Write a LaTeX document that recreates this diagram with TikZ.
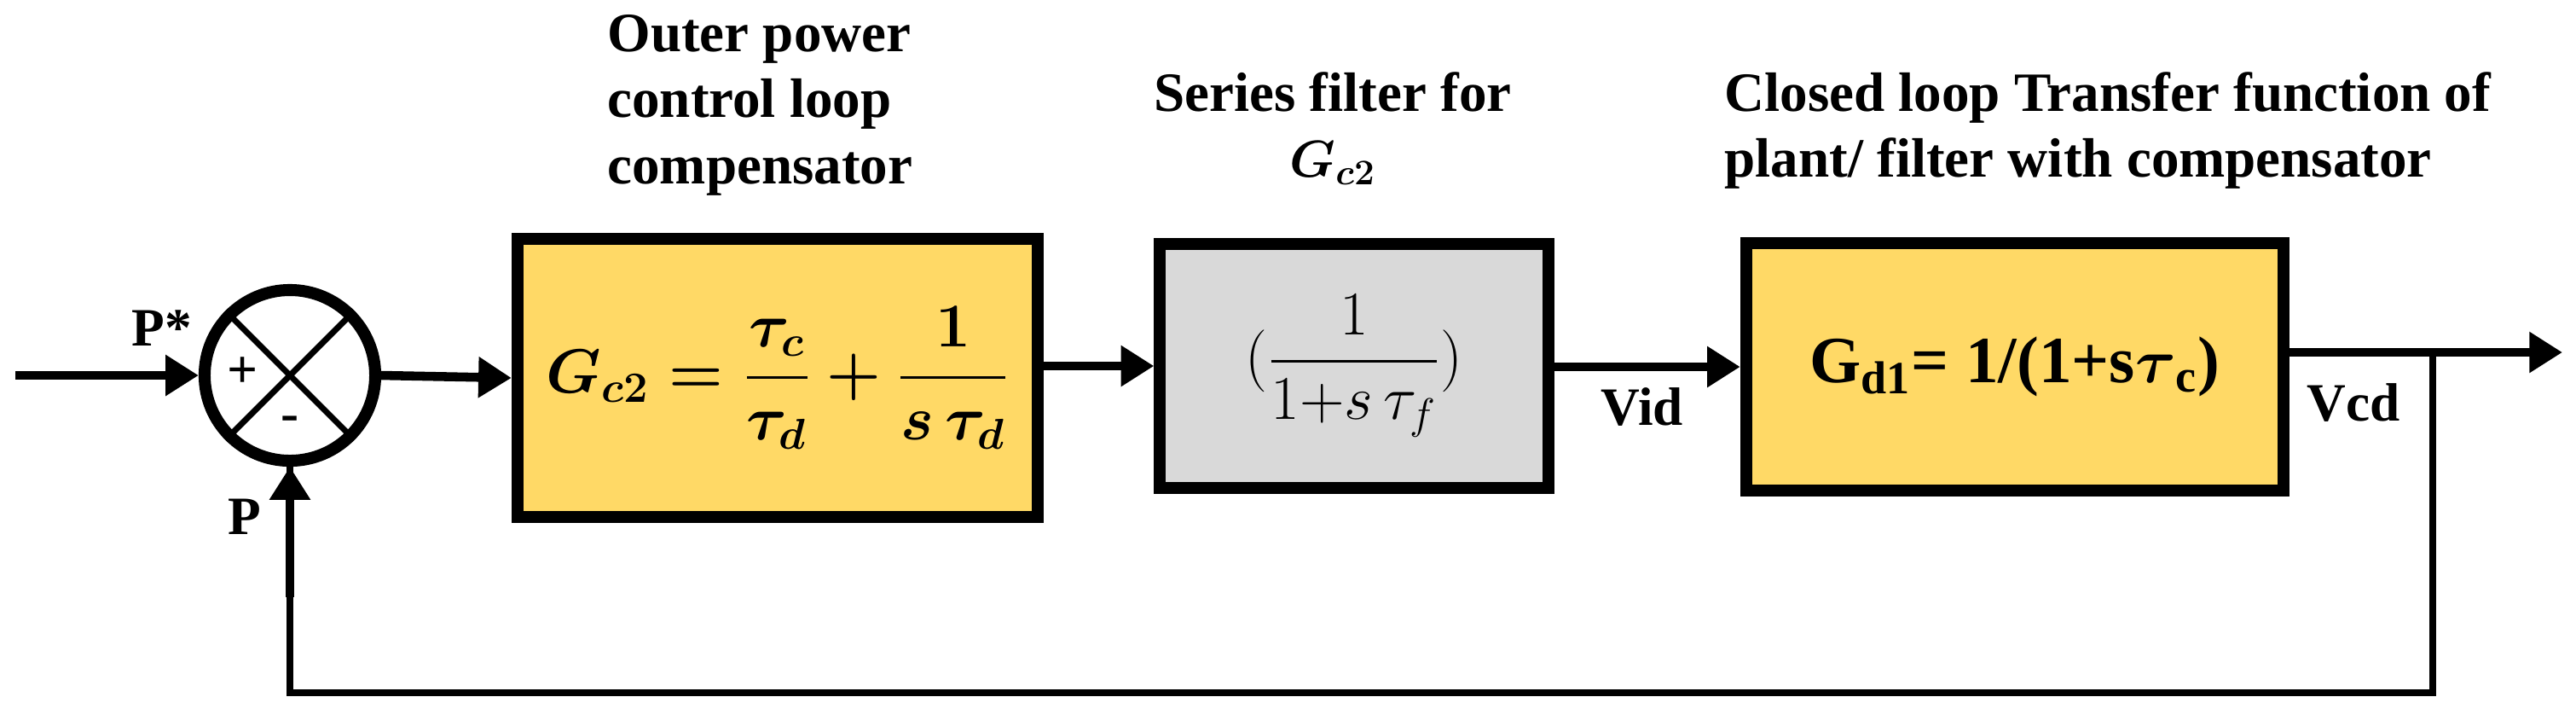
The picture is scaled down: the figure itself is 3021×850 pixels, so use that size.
\documentclass[tikz,border=0pt]{standalone}
\usepackage{fontspec}
\setmainfont{Liberation Serif}
\usepackage{amsmath}
\usetikzlibrary{positioning, arrows.meta}
\definecolor{boxyellow}{RGB}{255,217,102}
\definecolor{boxgrey}{RGB}{217,217,217}
\tikzstyle{block} = [rectangle, draw=black, line width=4pt, fill=boxyellow, text centered, font=\fontsize{22}{26}\selectfont\bfseries]
\tikzstyle{filt} = [rectangle, draw=black, line width=4pt, fill=boxgrey, text centered, font=\fontsize{22}{26}\selectfont]
\tikzstyle{summ} = [circle, draw=black, line width=4pt, inner sep=0pt]
\tikzstyle{title} = [font=\fontsize{18.5}{22}\selectfont\bfseries, align=left]
\tikzstyle{lbl} = [font=\fontsize{18}{21}\selectfont\bfseries]
\tikzstyle{arrow} = [line width=3pt,-{Triangle[length=11pt,width=13pt]}]
\tikzstyle{line} = [line width=2.2pt]

\begin{document}
\begin{tikzpicture}[x=0.01cm, y=-0.01cm]
		\useasboundingbox (0,0) rectangle (3021,850);
		
		\node (sum) [summ, minimum size=2cm] at (340,440) {};
		\draw [line width=2pt] (sum.45) -- (sum.225) (sum.135) -- (sum.315);
		\node (plus) [lbl] at (285,437) {+};
		\node (minus) [lbl] at (340,497) {-};
		
		\node (comp) [block, minimum width=6.1cm, minimum height=3.25cm] at (912,443)
			{$\boldsymbol{G_{c2}=\dfrac{\tau_c}{\tau_d}+\dfrac{1}{s\,\tau_d}}$};
		\node (filter) [filt, minimum width=4.55cm, minimum height=2.85cm] at (1588,429)
			{$(\dfrac{1}{1{+}s\,\tau_f})$};
		\node (plant) [block, minimum width=6.3cm, minimum height=2.9cm] at (2363,430)
			{G\textsubscript{d1}= 1/(1+s$\boldsymbol{\tau}$\textsubscript{c})};
		
		\node (t1) [title, anchor=north west] at (700,5) {Outer power\\control loop\\compensator};
		\node (t2) [title, align=center, anchor=north] at (1563,72) {Series filter for\\$\boldsymbol{G_{c2}}$};
		\node (t3) [title, anchor=north west] at (2010,72) {Closed loop Transfer function of\\plant/ filter with compensator};
		
		\coordinate (in) at (18,440);
		\coordinate (out) at (3005,413);
		\coordinate (branch) at (2853,413);
		\coordinate (fb) at (2853,812);
		
		\draw [arrow] (in) -- (sum.west);
		\draw [arrow] (sum.east) -- (comp.west);
		\draw [arrow] (comp.east |- filter.west) -- (filter.west);
		\draw [arrow] (filter.east |- plant.west) -- (plant.west);
		\draw [arrow] (plant.east |- out) -- (out);
		\draw [line] (branch) -- (fb) -| (sum.south);
		\draw [arrow] (sum.south |- 0,700) -- (sum.south);
		
		\node (pstar) [lbl] at (190,385) {P*};
		\node (pfb) [lbl] at (287,606) {P};
		\node (vid) [lbl] at (1926,477) {Vid};
		\node (vcd) [lbl] at (2760,472) {Vcd};
		
		\end{tikzpicture}
\end{document}
